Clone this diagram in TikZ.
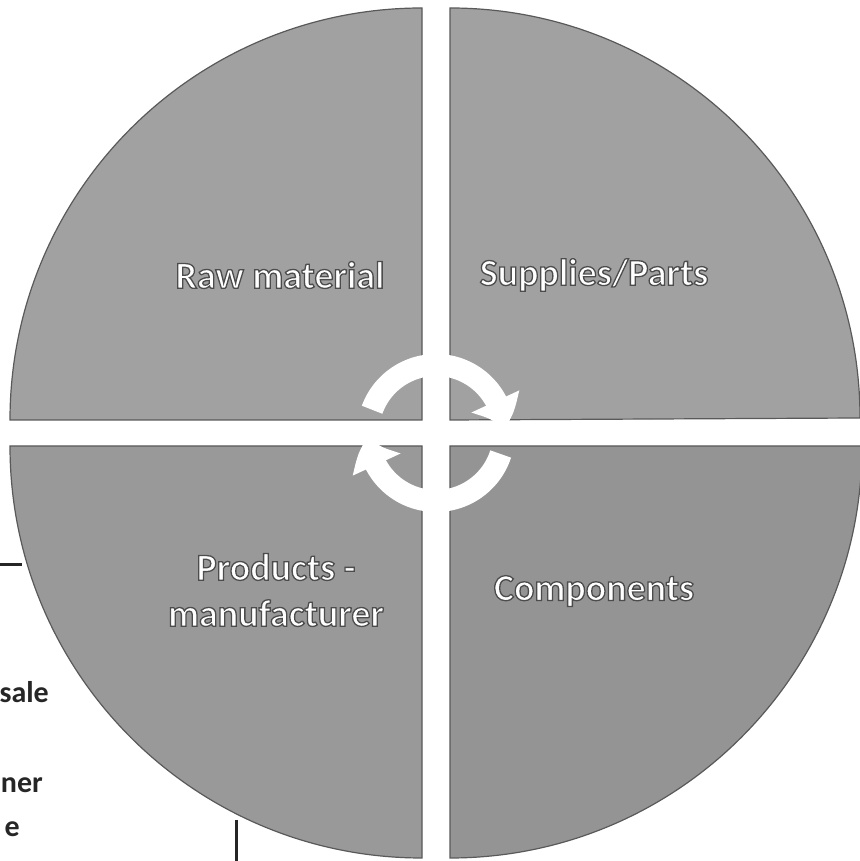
\documentclass[tikz,border=0pt]{standalone}
\usepackage{fontspec}
\setmainfont{Carlito}
\usepackage{xcolor}
\usepackage{tikz}
\usetikzlibrary{arrows.meta, bending}
% white letters with a dark rim
\newcommand{\rimtext}[1]{\special{pdf:literal direct 0.3 0.3 0.3 RG 1.3 w 2 Tr}#1\special{pdf:literal direct 0 Tr}}

\begin{document}
\begin{tikzpicture}[
    x=1pt, y=1pt,
    quad/.style={fill=#1, draw=black!65, line width=1.2pt},
    quad/.default={black!37},
    qlabel/.style={font=\bfseries\fontsize{38}{46}\selectfont, text=white, align=center, inner sep=0pt},
    ring/.style={white, line width=22pt, -{Triangle[width=50pt, length=30pt, bend]}},
    frag/.style={font=\bfseries\fontsize{30}{36}\selectfont, anchor=base east, inner sep=0pt, text=black!85}
]
\useasboundingbox (0,0) rectangle (859,861);

% Quadrant corners
\coordinate (tl) at (422,441);
\coordinate (tr) at (450,441);
\coordinate (bl) at (422,415);
\coordinate (br) at (450,415);
\coordinate (c) at (436,428);

% Quadrants
\draw[quad] (tl) -- ++(0,412) arc[start angle=90, end angle=180, radius=412] -- cycle;
\draw[quad] (tr) -- ++(0,412) arc[start angle=90, end angle=0, radius=410] -- cycle;
\draw[quad=black!40] (bl) -- ++(-412,0) arc[start angle=180, end angle=270, radius=412] -- cycle;
\draw[quad=black!42] (br) -- ++(412,0) arc[start angle=0, end angle=-90, radius=412] -- cycle;

% Cycle arrows
\draw[ring] ([shift={(160:68)}]c) arc[start angle=160, end angle=3, radius=68];
\draw[ring] ([shift={(-18:68)}]c) arc[start angle=-18, end angle=-177, radius=68];

% Labels
\node[qlabel] (raw) at (280,586) {\rimtext{Raw material}};
\node[qlabel] (sup) at (594,586) {\rimtext{Supplies/Parts}};
\node[qlabel] (prod) at (276,271) {\rimtext{Products -}\\\rimtext{manufacturer}};
\node[qlabel] (comp) at (594,270) {\rimtext{Components}};

% Cut-off text box on the left
\node[frag] (f1) at (49,158) {sale};
\node[frag] (f2) at (43,68) {ner};
\node[frag] (f3) at (20,24) {e};
\coordinate (h0) at (0,296);
\coordinate (h1) at (22,296);
\coordinate (v0) at (236,41);
\coordinate (v1) at (236,0);
\draw[line width=3pt, black!85] (h0) -- (h1);
\draw[line width=3pt, black!85] (v0) -- (v1);

\end{tikzpicture}
\end{document}
